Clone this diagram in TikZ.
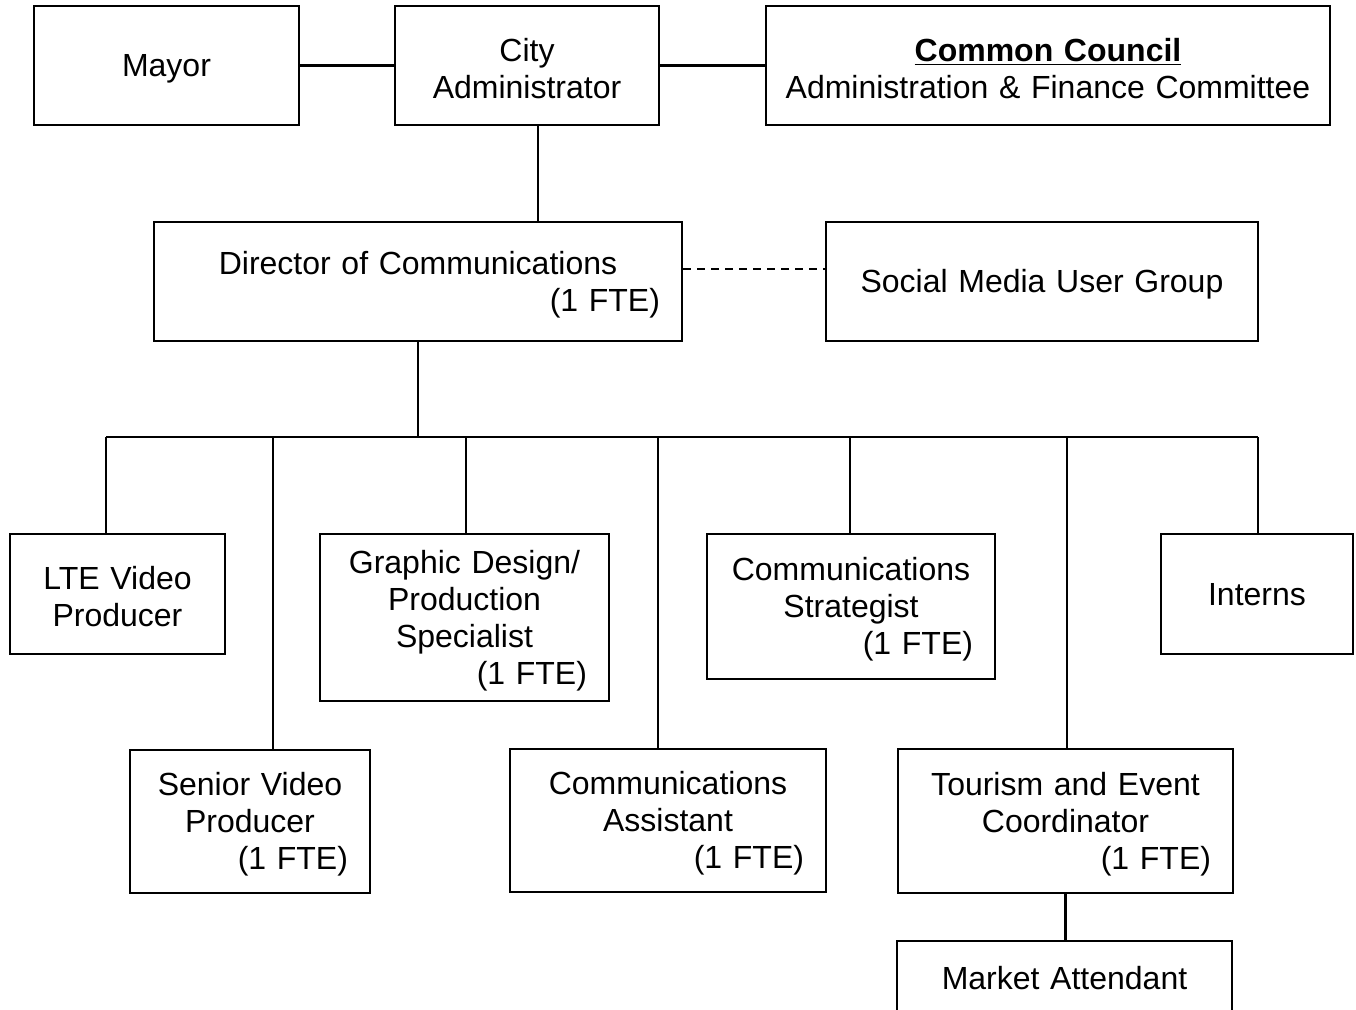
\documentclass[tikz,border=0pt]{standalone}
\usepackage{fontspec}
\setmainfont{Liberation Sans}
\usetikzlibrary{
arrows.meta,
calc,
positioning
}
\tikzset{>=latex}
\newcommand{\fteline}{\\\mbox{}\hfill(1 FTE)}

\begin{document}
\begin{tikzpicture}[x=0.5pt, y=-0.5pt,
	every node/.style={font=\fontsize{16}{18.5}\selectfont},
	unit/.style={draw, line width=1.3pt, inner xsep=11pt, inner ysep=0pt, align=center, execute at end node={\endgraf\vspace*{-3pt}}},
	link/.style={line width=1.1pt},
	dashed link/.style={line width=1.1pt, dash pattern=on 4pt off 3pt}]
	\useasboundingbox (0,0) rectangle (1356,1010);
	\node[unit, minimum width=132.5pt, text width=110.5pt, minimum height=59.5pt] (mayor) at (166.5,65.5) {Mayor};
	\node[unit, minimum width=132pt, text width=110pt, minimum height=59.5pt] (cityadmin) at (527,65.5) {City\\Administrator};
	\node[unit, inner xsep=4pt, minimum width=282pt, text width=274pt, minimum height=59.5pt] (council) at (1048,65.5) {\underline{\textbf{Common Council}}\\Administration \& Finance Committee};
	\node[unit, minimum width=264pt, text width=242pt, minimum height=59.5pt] (director) at (418,281.5) {Director of Communications\fteline};
	\node[unit, minimum width=216pt, text width=194pt, minimum height=59.5pt] (socialmedia) at (1042,281.5) {Social Media User Group};
	\node[unit, minimum width=107.5pt, text width=85.5pt, minimum height=60pt] (lte) at (117.5,594) {LTE Video\\Producer};
	\node[unit, minimum width=120pt, text width=98pt, minimum height=71.5pt] (senior) at (250,821.5) {Senior Video\\Producer\fteline};
	\node[unit, minimum width=144.5pt, text width=122.5pt, minimum height=83.5pt] (graphic) at (464.5,617.5) {Graphic Design/\\Production\\Specialist\fteline};
	\node[unit, minimum width=158pt, text width=136pt, minimum height=71.5pt] (assistant) at (668,820.5) {Communications\\Assistant\fteline};
	\node[unit, minimum width=144pt, text width=122pt, minimum height=72.5pt] (strategist) at (851,606.5) {Communications\\Strategist\fteline};
	\node[unit, minimum width=167.5pt, text width=145.5pt, minimum height=72pt] (tourism) at (1065.5,821) {Tourism and Event\\Coordinator\fteline};
	\node[unit, minimum width=96pt, text width=74pt, minimum height=60pt] (interns) at (1257,594) {Interns};
	\node[unit, minimum width=167.5pt, text width=145.5pt, minimum height=37pt] (market) at (1064.5,978) {Market Attendant};
	\coordinate (bus) at (417,437);

	\draw[link] (mayor.east) -- (cityadmin.west);
	\draw[link] (cityadmin.east) -- (council.west);
	\draw[link] ([xshift=5.5pt]cityadmin.south) -- ([xshift=5.5pt]cityadmin.south |- director.north);
	\draw[dashed link] ([yshift=6.25pt]director.east) -- ([yshift=6.25pt]director.east -| socialmedia.west);
	\draw[link] (director.south) -- (director.south |- bus);
	\draw[link] ([xshift=-5.75pt]lte.north |- bus) -- ([xshift=0.5pt]interns.north |- bus);
	\foreach \n/\s in {lte/-5.75pt, senior/11.5pt, graphic/0.75pt, assistant/-5pt, strategist/-0.5pt, tourism/0.75pt, interns/0.5pt}
		\draw[link] ([xshift=\s]\n.north) -- ([xshift=\s]\n.north |- bus);
	\draw[link] (tourism.south) -- (tourism.south |- market.north);
\end{tikzpicture}
\end{document}
